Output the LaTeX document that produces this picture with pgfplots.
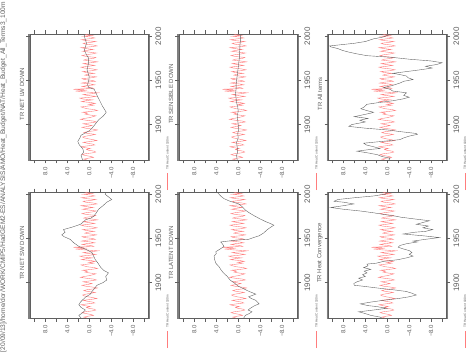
\documentclass[border=0pt]{standalone}
\usepackage{fontspec}
\setmainfont{Liberation Sans}
\usepackage{pgfplots}
\pgfplotsset{compat=1.18}
\usepackage{pgfplotstable}
\definecolor{fg}{RGB}{95,95,95}
\definecolor{ln}{RGB}{100,100,100}
\definecolor{rd}{RGB}{255,125,125}

\pgfplotstableread{
year v
1860 0.4
1861 1.0
1862 0.2
1863 -0.8
1864 -0.3
1865 0.6
1866 1.3
1867 0.8
1868 -0.5
1869 -1.2
1870 -0.9
1871 0.1
1872 0.5
1873 -0.2
1874 0.9
1875 1.5
1876 0.3
1877 -1.0
1878 -0.6
1879 0.4
1880 1.1
1881 -0.3
1882 -1.4
1883 -0.7
1884 0.2
1885 0.9
1886 1.2
1887 0.6
1888 -0.4
1889 -1.1
1890 0.3
1891 1.0
1892 0.4
1893 -0.9
1894 -1.5
1895 -0.6
1896 0.7
1897 1.3
1898 0.2
1899 -0.5
1900 0.4
1901 1.1
1902 -0.2
1903 -1.3
1904 -0.8
1905 0.6
1906 1.6
1907 0.9
1908 -0.1
1909 -0.7
1910 -1.2
1911 0.0
1912 0.8
1913 0.3
1914 1.2
1915 -0.4
1916 -1.5
1917 -0.9
1918 0.4
1919 1.0
1920 1.5
1921 0.2
1922 -0.8
1923 0.1
1924 -1.1
1925 -0.3
1926 1.4
1927 0.7
1928 -0.6
1929 1.2
1930 1.7
1931 -0.2
1932 -1.2
1933 0.3
1934 1.1
1935 -0.5
1936 -1.6
1937 0.8
1938 2.5
1939 0.4
1940 2.9
1941 -0.8
1942 -0.4
1943 1.3
1944 0.6
1945 -1.0
1946 -0.2
1947 1.4
1948 0.5
1949 -1.1
1950 -0.6
1951 0.9
1952 1.3
1953 -0.4
1954 -1.3
1955 -0.2
1956 0.8
1957 0.3
1958 -0.9
1959 0.6
1960 1.2
1961 -0.5
1962 -1.4
1963 -0.6
1964 0.9
1965 1.5
1966 0.1
1967 -1.0
1968 0.2
1969 1.1
1970 -0.3
1971 -1.5
1972 -0.4
1973 1.0
1974 0.5
1975 -0.8
1976 -1.2
1977 0.4
1978 1.3
1979 0.7
1980 -0.6
1981 -1.3
1982 0.0
1983 1.2
1984 0.4
1985 -0.7
1986 0.6
1987 1.5
1988 -0.2
1989 -1.4
1990 -0.8
1991 0.7
1992 1.1
1993 -0.3
1994 -1.2
1995 0.5
1996 1.4
1997 0.2
1998 -1.0
1999 -0.4
2000 1.1
2001 -0.6
2002 0.8
}\redtab

\pgfplotstableread{
year v
1860 1.2
1865 1.5
1869 1.0
1873 1.2
1877 1.8
1881 2.1
1885 1.7
1888 1.5
1891 0.6
1893 0.0
1896 -0.5
1899 -0.9
1903 -1.4
1906 -1.8
1910 -2.6
1914 -3.1
1918 -2.7
1921 -2.4
1926 -2.0
1932 -1.5
1936 -1.2
1940 -0.9
1942 0.1
1945 0.3
1950 0.1
1954 0.0
1958 0.2
1962 0.4
1965 0.3
1970 0.1
1975 0.1
1979 0.5
1984 0.9
1988 0.7
1992 0.5
1996 0.7
2000 0.9
2002 0.8
}\blA

\pgfplotstableread{
year v
1860 0.2
1865 0.3
1870 0.1
1875 0.2
1880 0.3
1885 0.0
1890 0.1
1895 -0.1
1900 0.0
1905 0.1
1910 0.2
1915 0.0
1920 0.1
1925 0.3
1930 0.4
1935 0.5
1940 0.4
1945 0.4
1950 0.3
1955 0.2
1960 0.1
1965 0.0
1970 -0.1
1975 -0.2
1980 -0.2
1985 -0.3
1990 -0.3
1995 -0.4
2000 -0.4
2002 -0.5
}\blB

\pgfplotstableread{
year v
1860 -0.3
1862 -0.5
1864 1.0
1866 1.8
1868 3.5
1870 5.5
1872 3.0
1873 1.3
1875 2.5
1877 3.8
1879 4.3
1881 1.0
1883 -2.3
1885 -3.0
1887 -4.0
1889 -5.5
1890 -5.3
1892 -2.5
1894 0.0
1896 4.0
1898 7.0
1900 6.5
1901 5.7
1903 4.0
1905 5.0
1907 3.5
1909 6.0
1911 4.5
1913 3.0
1914 2.5
1916 3.8
1918 4.8
1920 4.2
1923 3.7
1925 1.5
1927 -1.0
1929 -2.8
1931 -4.0
1933 -3.0
1936 -3.5
1938 -1.0
1940 -0.5
1942 0.7
1944 -0.8
1947 -2.3
1949 -3.0
1951 -4.7
1953 -3.8
1955 -3.5
1957 -2.0
1958 -1.0
1960 -3.5
1962 -6.0
1964 -8.2
1966 -7.0
1968 -9.0
1970 -10.0
1972 -8.0
1974 -4.0
1976 -1.0
1978 3.7
1980 5.5
1982 7.0
1984 8.2
1986 9.0
1988 10.3
1989 10.5
1991 7.5
1992 6.0
1994 4.0
1997 2.5
1999 0.8
2000 0.4
2002 -0.5
}\blC

\pgfplotstableread{
year v
1860 1.5
1863 1.9
1866 1.2
1869 0.7
1872 1.5
1875 1.9
1878 1.6
1880 1.3
1884 0.6
1887 -0.2
1890 -0.5
1893 -0.9
1897 -1.4
1900 -2.5
1903 -3.2
1907 -3.0
1911 -3.5
1914 -2.6
1918 -2.0
1922 -1.6
1926 -1.1
1930 -0.8
1934 -0.5
1937 0.4
1941 1.9
1945 2.8
1949 3.5
1952 4.6
1954 5.0
1957 4.4
1960 4.7
1963 3.0
1966 1.6
1969 1.0
1971 0.7
1973 -0.3
1975 -0.8
1979 -1.3
1983 -1.7
1987 -2.5
1991 -3.2
1994 -4.1
1997 -3.5
2000 -2.9
2002 -3.0
}\blD

\pgfplotstableread{
year v
1860 -1.0
1863 -1.3
1865 -2.0
1867 -2.5
1869 -1.8
1871 -2.2
1874 -3.0
1876 -3.8
1878 -3.5
1880 -3.2
1882 -2.4
1884 -1.9
1887 -3.2
1890 -2.0
1893 -1.0
1896 0.0
1900 0.8
1903 1.5
1907 2.0
1911 2.7
1915 3.2
1918 3.5
1922 4.1
1926 4.3
1930 4.4
1933 4.0
1935 4.1
1938 3.3
1941 2.6
1944 2.9
1946 3.2
1948 0.5
1949 -1.9
1951 -2.8
1953 -3.8
1956 -4.6
1960 -5.3
1963 -6.0
1965 -6.5
1967 -5.8
1969 -5.0
1972 -4.0
1976 -2.8
1979 -2.0
1982 -1.3
1986 -0.7
1989 -0.1
1992 1.5
1995 2.6
1998 3.2
2000 3.5
2002 3.8
}\blE

\pgfplotstableread{
year v
1860 1.0
1861 1.3
1863 3.0
1865 4.0
1867 5.2
1869 2.5
1871 0.1
1873 2.0
1874 3.5
1876 4.9
1878 3.0
1880 0.7
1882 -2.0
1884 -4.0
1886 -5.3
1888 -4.5
1890 -3.5
1892 -1.0
1894 1.9
1896 4.5
1897 6.0
1899 6.1
1901 5.5
1903 4.5
1905 5.2
1907 4.0
1909 4.5
1911 3.7
1913 4.2
1915 3.0
1917 4.3
1919 3.5
1921 3.7
1922 2.0
1924 0.7
1926 -2.0
1928 -3.5
1930 -4.7
1932 -4.0
1934 -4.5
1936 -4.1
1938 -3.0
1940 -2.0
1942 -2.3
1944 -3.5
1946 -5.5
1947 -4.7
1949 -7.0
1951 -9.5
1953 -6.5
1955 -2.9
1957 -5.0
1958 -7.0
1960 -8.3
1962 -6.5
1964 -7.5
1966 -5.3
1968 -6.5
1970 -7.7
1972 -5.0
1974 -2.5
1975 -1.7
1977 0.5
1979 2.5
1981 4.9
1983 8.0
1985 10.3
1987 8.0
1989 6.1
1991 8.0
1992 9.7
1994 9.0
1996 6.0
1998 2.5
2000 0.4
2002 0.0
}\blF

\pgfplotsset{panel/.style={
  scale only axis, width=118.5pt, height=126pt,
  anchor=north west,
  x dir=reverse, xmin=-10.8, xmax=10.8, ymin=1860, ymax=2002.5,
  xtick={-10,-8,...,10},
  xticklabels={,−8.0,,−4.0,,0.0,,4.0,,8.0,},
  ytick={1900,1950,2000}, yticklabels={1900,1950,2000},
  minor ytick={1860,...,2002},
  tick align=outside, major tick length=3.5pt, minor tick length=1.5pt,
  yticklabel pos=right,
  xticklabel style={rotate=90,anchor=east,font=\fontsize{6}{7}\selectfont,text=fg},
  yticklabel style={rotate=90,anchor=north,font=\fontsize{8}{9}\selectfont,text=fg},
  axis line style={fg,line width=0.5pt},
  every tick/.append style={fg,line width=0.4pt},
  every minor tick/.append style={black!50,line width=0.15pt},
}}

\newcommand\ttl[3]{\node[rotate=90,font=\fontsize{6}{7}\selectfont,text=fg] at (#1pt,#2pt) {#3};}
\newcommand\lgd[2]{%
  \draw[rd,line width=0.5pt] (#1pt,#2pt) -- (#1pt,#2pt+17pt);
  \node[rotate=90,anchor=west,inner sep=0pt,font=\fontsize{3.2}{4}\selectfont,text=fg] at (#1pt,#2pt+20pt) {TR Heat Content 100m};}

\begin{document}
\begin{tikzpicture}
\path[use as bounding box] (0,0) rectangle (466pt,354pt);

\begin{axis}[panel, at={(30pt,320pt)}]
\addplot[rd,line width=0.4pt] table[x=v,y=year] {\redtab};
\addplot[ln,line width=0.4pt] table[x=v,y=year] {\blA};
\end{axis}
\begin{axis}[panel, at={(179pt,320pt)}]
\addplot[rd,line width=0.4pt] table[x=v,y=year] {\redtab};
\addplot[ln,line width=0.4pt] table[x=v,y=year] {\blB};
\end{axis}
\begin{axis}[panel, at={(328pt,320pt)}]
\addplot[rd,line width=0.4pt] table[x=v,y=year] {\redtab};
\addplot[ln,line width=0.4pt] table[x=v,y=year] {\blC};
\end{axis}
\begin{axis}[panel, at={(30pt,162pt)}]
\addplot[rd,line width=0.4pt] table[x=v,y=year] {\redtab};
\addplot[ln,line width=0.4pt] table[x=v,y=year] {\blD};
\end{axis}
\begin{axis}[panel, at={(179pt,162pt)}]
\addplot[rd,line width=0.4pt] table[x=v,y=year] {\redtab};
\addplot[ln,line width=0.4pt] table[x=v,y=year] {\blE};
\end{axis}
\begin{axis}[panel, at={(328pt,162pt)}]
\addplot[rd,line width=0.4pt] table[x=v,y=year] {\redtab};
\addplot[ln,line width=0.4pt] table[x=v,y=year] {\blF};
\end{axis}

\ttl{22}{260}{TR NET LW DOWN}
\ttl{171}{260}{TR SENSIBLE DOWN}
\ttl{320}{260}{TR All terms}
\ttl{22}{101}{TR NET SW DOWN}
\ttl{171}{101}{TR LATENT DOWN}
\ttl{320}{101}{TR Heat Convergence}

\lgd{167.5}{164}
\lgd{316.5}{164}
\lgd{465}{164}
\lgd{167.5}{6}
\lgd{316.5}{6}
\lgd{465}{6}

\node[rotate=90,text=fg,inner sep=0pt] at (3.5pt,177pt) {\resizebox{350pt}{!}{[20/09/13]/home/dor/WORK/CMIP5/HadGEM2-ES/ANALYSIS/AMO/Heat\_Budget/NAT/Heat\_Budget\_All\_Terms3\_100m}};
\end{tikzpicture}
\end{document}
